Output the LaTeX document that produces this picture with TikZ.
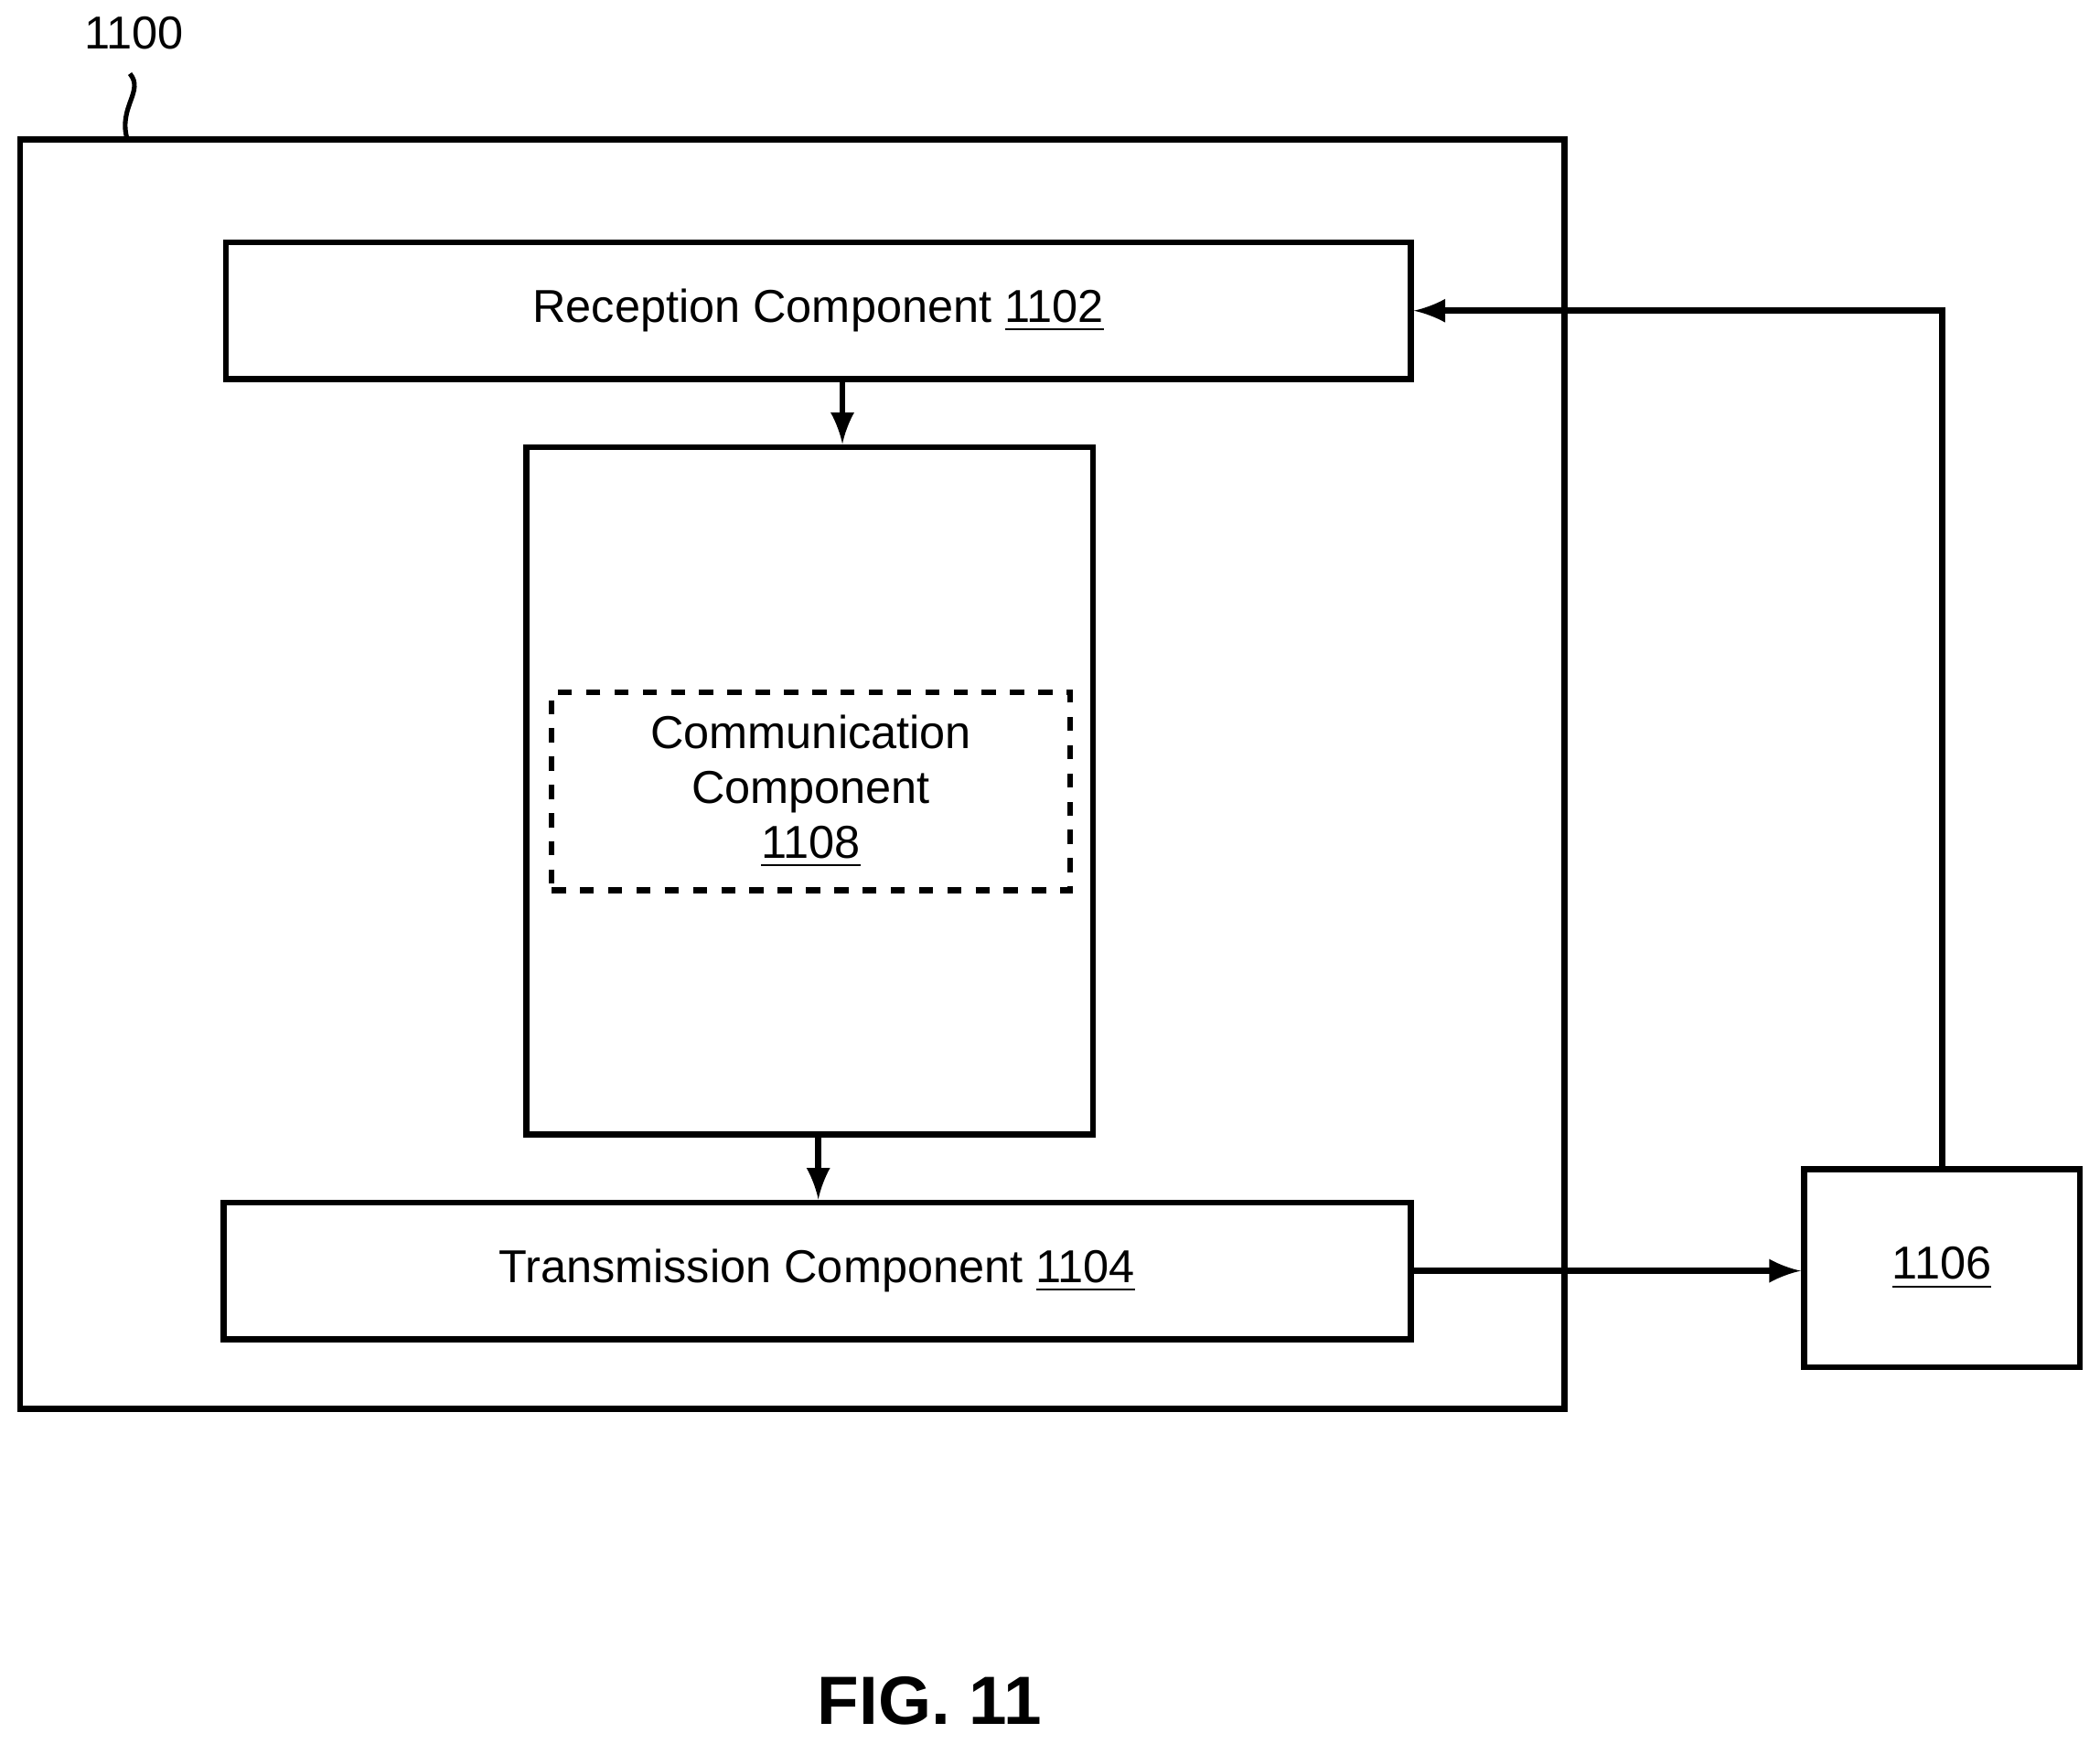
\documentclass[tikz,border=0pt]{standalone}
\usepackage{fontspec}
\setmainfont{Liberation Sans}
\usetikzlibrary{positioning}
\tikzset{
  box/.style={draw, line width=1.3pt, inner sep=0pt},
  link/.style={line width=1.3pt, -latex},
}
\begin{document}
\begin{tikzpicture}[x=0.01cm,y=-0.01cm,font=\fontsize{9.8}{11.6}\selectfont]
    \useasboundingbox (0,0) rectangle (1568,1302);
    % outer device
    \draw[line width=1.3pt] (15,104) rectangle (1168,1052);
    \node (dev_lbl) at (100,25) {1100};
    \draw[line width=1pt] (97,55) .. controls (108,68) and (88,80) .. (95,104);
    % components
    \node[box, minimum width=8.84cm, minimum height=1.02cm] (rx) at (611,232) {Reception Component \underline{1102}};
    \node[box, minimum width=4.23cm, minimum height=5.13cm] (mid) at (604.5,590.5) {};
    \node[draw, dashed, line width=1.3pt, minimum width=3.87cm, minimum height=1.48cm, align=center] (comm) at (605.5,591) {Communication\\Component\\\underline{1108}};
    \node[box, minimum width=8.86cm, minimum height=1.02cm] (tx) at (610,949) {Transmission Component \underline{1104}};
    \node[box, minimum width=2.06cm, minimum height=1.48cm] (ext) at (1450,947) {\underline{1106}};
    % connectors
    \draw[link] (rx.south -| 629,0) -- (mid.north -| 629,0);
    \draw[link] (mid.south -| 611,0) -- (tx.north -| 611,0);
    \draw[link] (tx.east) -- (ext.west |- tx.east);
    \draw[link] (ext.north) |- (rx.east);
    \node[font=\fontsize{14.5}{17}\selectfont\bfseries] (fig) at (694,1270) {FIG. 11};
\end{tikzpicture}
\end{document}
